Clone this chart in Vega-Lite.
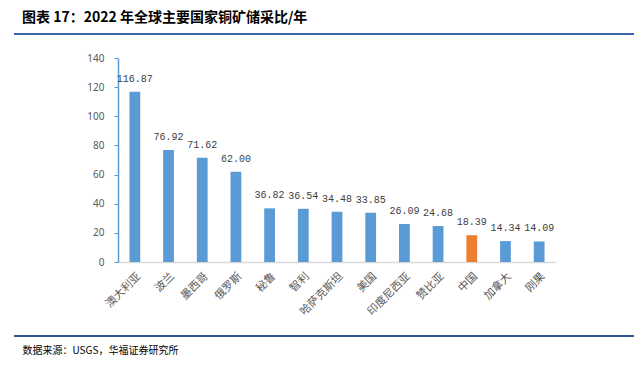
{
  "$schema": "https://vega.github.io/schema/vega-lite/v6.json",
  "autosize": "none",
  "width": 438,
  "height": 204,
  "padding": {"left": 118, "top": 58, "right": 78, "bottom": 107},
  "background": "white",
  "config": {"view": {"stroke": null}},
  "title": {
    "text": "图表 17：2022 年全球主要国家铜矿储采比/年",
    "anchor": "start",
    "frame": "group",
    "dx": -96,
    "offset": 8,
    "font": "Noto Sans CJK SC",
    "fontSize": 14,
    "fontWeight": "bold",
    "color": "#000000"
  },
  "data": {
    "values": [
      {"country": "澳大利亚", "value": 116.87},
      {"country": "波兰", "value": 76.92},
      {"country": "墨西哥", "value": 71.62},
      {"country": "俄罗斯", "value": 62.00},
      {"country": "秘鲁", "value": 36.82},
      {"country": "智利", "value": 36.54},
      {"country": "哈萨克斯坦", "value": 34.48},
      {"country": "美国", "value": 33.85},
      {"country": "印度尼西亚", "value": 26.09},
      {"country": "赞比亚", "value": 24.68},
      {"country": "中国", "value": 18.39},
      {"country": "加拿大", "value": 14.34},
      {"country": "刚果", "value": 14.09}
    ]
  },
  "encoding": {
    "x": {
      "field": "country",
      "type": "nominal",
      "sort": null,
      "scale": {"paddingInner": 0.68, "paddingOuter": 0.34},
      "axis": {
        "title": "数据来源：USGS，华福证券研究所",
        "titleX": -96,
        "titleY": 88,
        "titleAlign": "left",
        "titleBaseline": "middle",
        "titleFont": "Noto Sans CJK SC",
        "titleFontSize": 10,
        "titleFontWeight": "normal",
        "titleColor": "#000000",
        "labelAngle": -45,
        "labelFont": "Noto Sans CJK SC",
        "labelFontSize": 11,
        "labelColor": "#595959",
        "labelPadding": 8,
        "ticks": false,
        "domainColor": "#D9D9D9",
        "domainWidth": 1.5
      }
    },
    "y": {
      "field": "value",
      "type": "quantitative",
      "scale": {"domain": [0, 140], "nice": false},
      "axis": {
        "title": null,
        "values": [0, 20, 40, 60, 80, 100, 120, 140],
        "grid": false,
        "domainColor": "#5B9BD5",
        "domainWidth": 1.5,
        "tickColor": "#5B9BD5",
        "tickSize": 4,
        "labelPadding": 10,
        "labelFont": "Noto Sans",
        "labelFontSize": 10,
        "labelColor": "#595959"
      }
    }
  },
  "layer": [
    {
      "mark": {"type": "bar"},
      "encoding": {
        "color": {
          "condition": {"test": "datum.country === '中国'", "value": "#ED7D31"},
          "value": "#5B9BD5"
        }
      }
    },
    {
      "mark": {"type": "text", "baseline": "alphabetic", "dy": -10, "font": "Liberation Mono", "fontSize": 10, "color": "#404040"},
      "encoding": {
        "text": {"field": "value", "type": "quantitative", "format": ".2f"}
      }
    },
    {
      "mark": {"type": "rule", "color": "#3B64AD", "strokeWidth": 1.5},
      "encoding": {
        "x": {"value": -104},
        "x2": {"value": 516},
        "y": {"value": -24}
      }
    },
    {
      "mark": {"type": "rule", "color": "#2F5597", "strokeWidth": 1.5},
      "encoding": {
        "x": {"value": -104},
        "x2": {"value": 516},
        "y": {"value": 278}
      }
    }
  ]
}
